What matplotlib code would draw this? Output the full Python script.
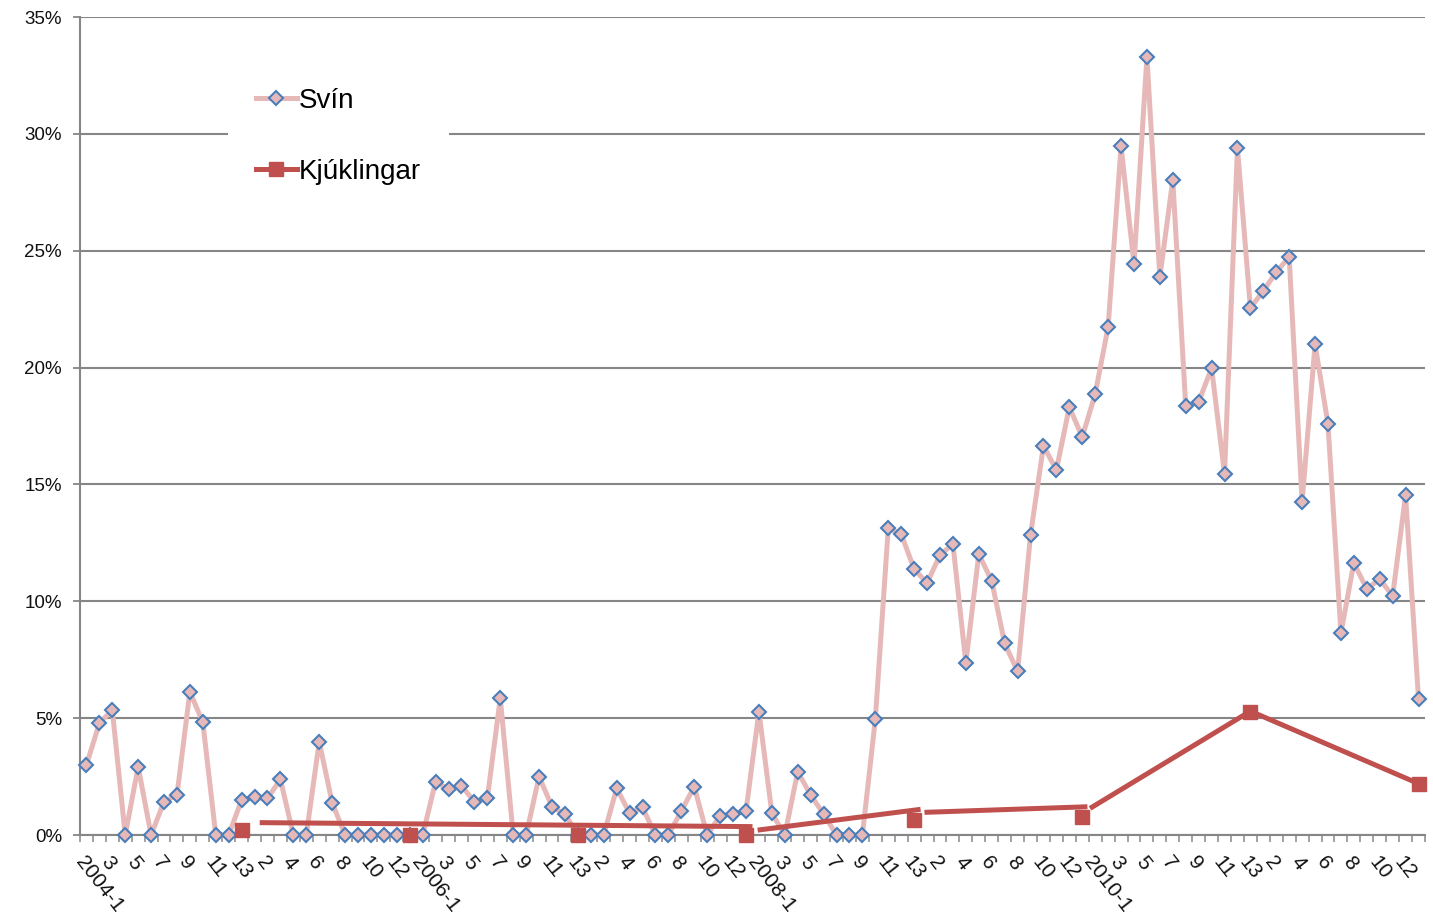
import matplotlib.pyplot as plt
from matplotlib.ticker import FuncFormatter

plt.rcParams['font.family'] = ['Liberation Sans', 'DejaVu Sans']

# 13 four-week periods per year, 2004-2011
periods = [f"{y}-{p}" for y in range(2004, 2012) for p in range(1, 14)]

# Svín (% share), one value per period
svin = [
    3.0, 4.78, 5.35, 0.0, 2.92, 0.0, 1.43, 1.71, 6.13, 4.82, 0.0, 0.0, 1.5,
    1.61, 1.57, 2.38, 0.0, 0.0, 3.99, 1.38, 0.0, 0.0, 0.0, 0.0, 0.0, 0.0,
    0.0, 2.28, 1.95, 2.1, 1.43, 1.57, 5.85, 0.0, 0.0, 2.5, 1.21, 0.9, 0.0,
    0.0, 0.0, 2.0, 0.93, 1.18, 0.0, 0.0, 1.03, 2.07, 0.0, 0.83, 0.9, 1.03,
    5.28, 0.93, 0.0, 2.71, 1.71, 0.9, 0.0, 0.0, 0.0, 4.96, 13.14, 12.88, 11.38,
    10.78, 11.98, 12.45, 7.36, 12.02, 10.87, 8.2, 7.0, 12.84, 16.65, 15.62, 18.31,
    17.03, 18.87, 21.74, 29.48, 24.43, 33.29, 23.88, 28.03, 18.36, 18.53, 19.98, 15.45,
    29.4, 22.55, 23.28, 24.09, 24.73, 14.25, 21.0, 17.59, 8.64, 11.64, 10.53, 10.95,
    10.23, 14.55, 5.82,
]

# Kjúklingar: one value at the end of each year (period 13)
kjuk_idx = [12, 25, 38, 51, 64, 77, 90, 103]
kjuk = [0.2, 0.02, 0.02, 0.02, 0.65, 0.77, 5.26, 2.18]

# the Kjúklingar line as drawn in the original (separate segments)
kjuk_line_x = [13.4, 51.5, None, 51.9, 64.5, None, 64.8, 77.4, None, 77.6, 90, 103]
kjuk_line_y = [0.53, 0.36, None, 0.21, 1.1, None, 0.97, 1.21, None, 1.14, 5.3, 2.2]

# every other period gets a label; the first period of a year shows the year
tick_pos = list(range(0, len(periods), 2))
tick_labels = []
for i in tick_pos:
    y, p = periods[i].split('-')
    tick_labels.append(periods[i] if p == '1' else p)

grid_col = '#868686'

fig = plt.figure(figsize=(14.33, 9.15), dpi=100)
ax = fig.add_axes([0.0558, 0.0874, 0.9386, 0.894])

ax.plot(range(len(svin)), svin, color='#E6B9B8', lw=3.6, marker='D', ms=6.8,
        mfc='#E6B9B8', mec='#4A7EBB', mew=1.5, label='Svín', zorder=3, clip_on=False)
ax.plot(kjuk_line_x, kjuk_line_y, color='#C0504D', lw=3.6, zorder=4,
        solid_capstyle='butt', clip_on=False)
ax.plot(kjuk_idx, kjuk, color='#C0504D', lw=0, marker='s', ms=10.3,
        mfc='#C0504D', mec='#C0504D', zorder=5, clip_on=False)
# legend handle for Kjúklingar (line + square)
ax.plot([], [], color='#C0504D', lw=3.6, marker='s', ms=10.3, label='Kjúklingar')

ax.set_xlim(-0.5, len(periods) - 0.5)
ax.set_ylim(0, 35)
ax.set_yticks(range(0, 36, 5))
ax.yaxis.set_major_formatter(FuncFormatter(lambda v, _: f"{v:.0f}%"))
ax.grid(axis='y', color=grid_col, lw=1.5)
ax.set_axisbelow(True)

ax.set_xticks(tick_pos)
ax.set_xticklabels(tick_labels, rotation=-52, ha='left', va='top', rotation_mode='anchor')
ax.set_xticks([i - 0.5 for i in range(len(periods) + 1)], minor=True)
ax.tick_params(axis='x', which='major', length=0, pad=13, labelsize=15, labelcolor='#111111')
ax.tick_params(axis='x', which='minor', length=5, width=1.3, color='#9a9a9a')
ax.tick_params(axis='y', length=5, width=1.3, color=grid_col, pad=8, labelsize=13.5,
               labelcolor='#111111')

for s in ['top', 'right']:
    ax.spines[s].set_visible(False)
for s in ['left', 'bottom']:
    ax.spines[s].set_color(grid_col)
    ax.spines[s].set_linewidth(1.5)

leg = ax.legend(loc='upper left', bbox_to_anchor=(0.0996, 0.964), fontsize=20,
                frameon=True, fancybox=False, framealpha=1, edgecolor='none',
                facecolor='white', handlelength=1.5, handletextpad=0.05,
                labelspacing=1.62, borderpad=1.0)

plt.savefig('out.png', dpi=100)
